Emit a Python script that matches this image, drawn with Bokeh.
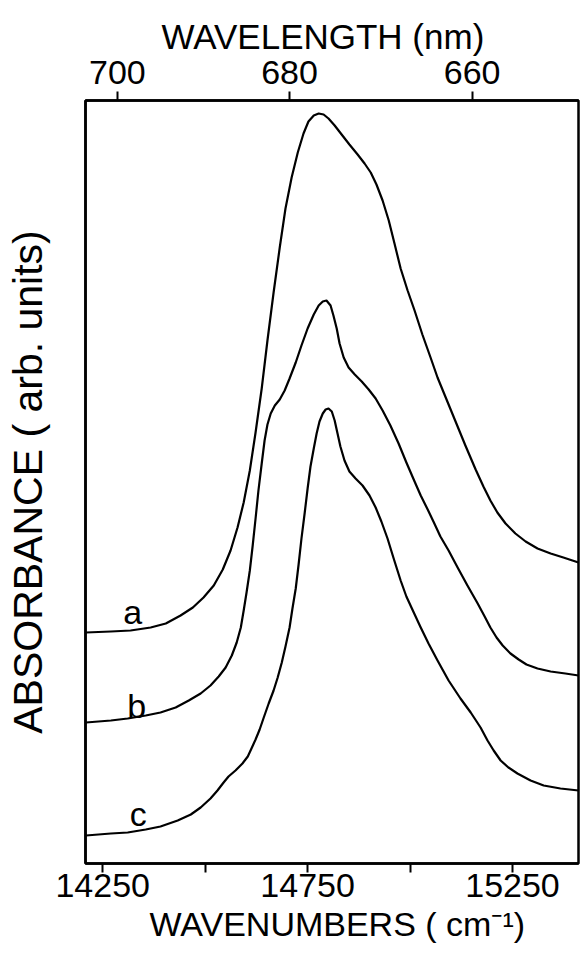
from bokeh.core.properties import value
from bokeh.embed import file_html
from bokeh.models import CustomJSTickFormatter, FixedTicker, LinearAxis, Range1d, Title
from bokeh.plotting import figure
from bokeh.resources import INLINE

# Absorbance spectra (wavenumber in cm^-1, absorbance in arbitrary units, offset per trace)
wavenumber_a = [14209, 14270, 14318, 14367, 14404, 14440, 14470, 14496, 14521, 14543,
                14562, 14579, 14594, 14609, 14623, 14638, 14652, 14667, 14682, 14696,
                14711, 14726, 14740, 14752, 14765, 14777, 14789, 14801, 14816, 14833,
                14852, 14872, 14889, 14904, 14918, 14933, 14948, 14962, 14977, 14994,
                15011, 15030, 15050, 15067, 15087, 15111, 15135, 15160, 15179, 15196,
                15213, 15233, 15257, 15282, 15311, 15343, 15374, 15411]
absorbance_a = [2.31, 2.32, 2.33, 2.36, 2.40, 2.48, 2.56, 2.66, 2.78, 2.94,
                3.13, 3.36, 3.61, 3.93, 4.31, 4.75, 5.23, 5.71, 6.16, 6.55,
                6.86, 7.11, 7.30, 7.42, 7.48, 7.50, 7.49, 7.45, 7.38, 7.29,
                7.19, 7.09, 7.00, 6.91, 6.79, 6.63, 6.43, 6.20, 5.95, 5.73,
                5.53, 5.29, 5.06, 4.86, 4.66, 4.42, 4.18, 3.94, 3.77, 3.63,
                3.51, 3.40, 3.30, 3.22, 3.15, 3.10, 3.06, 3.01]

wavenumber_b = [14209, 14270, 14311, 14355, 14391, 14428, 14460, 14489, 14513, 14533,
                14550, 14565, 14577, 14587, 14594, 14601, 14609, 14616, 14623, 14630,
                14638, 14645, 14652, 14660, 14670, 14682, 14694, 14706, 14721, 14735,
                14750, 14765, 14777, 14787, 14796, 14806, 14813, 14821, 14828, 14838,
                14850, 14865, 14882, 14899, 14916, 14933, 14952, 14972, 14991, 15011,
                15026, 15043, 15057, 15074, 15094, 15116, 15140, 15165, 15182, 15196,
                15211, 15226, 15245, 15265, 15284, 15311, 15343, 15379, 15411]
absorbance_b = [1.41, 1.43, 1.45, 1.48, 1.51, 1.56, 1.63, 1.70, 1.78, 1.87,
                1.96, 2.08, 2.21, 2.36, 2.53, 2.71, 2.93, 3.18, 3.45, 3.73,
                4.00, 4.23, 4.39, 4.50, 4.58, 4.64, 4.73, 4.85, 5.01, 5.18,
                5.35, 5.49, 5.58, 5.62, 5.63, 5.58, 5.48, 5.35, 5.20, 5.06,
                4.96, 4.89, 4.82, 4.74, 4.65, 4.53, 4.38, 4.20, 4.01, 3.82,
                3.68, 3.54, 3.42, 3.27, 3.13, 2.96, 2.78, 2.60, 2.47, 2.36,
                2.26, 2.18, 2.10, 2.04, 1.99, 1.95, 1.92, 1.90, 1.88]

wavenumber_c = [14209, 14270, 14311, 14355, 14391, 14433, 14465, 14489, 14513, 14530,
                14545, 14557, 14574, 14591, 14604, 14613, 14623, 14633, 14643, 14655,
                14667, 14677, 14687, 14696, 14706, 14713, 14721, 14728, 14735, 14743,
                14750, 14757, 14765, 14772, 14779, 14787, 14794, 14801, 14809, 14816,
                14823, 14830, 14840, 14852, 14867, 14884, 14901, 14916, 14930, 14945,
                14960, 14977, 14991, 15009, 15026, 15045, 15067, 15094, 15123, 15148,
                15172, 15189, 15204, 15221, 15240, 15262, 15294, 15326, 15367, 15411]
absorbance_c = [0.28, 0.30, 0.31, 0.34, 0.37, 0.43, 0.49, 0.56, 0.65, 0.73,
                0.81, 0.87, 0.93, 1.00, 1.07, 1.15, 1.24, 1.34, 1.46, 1.60,
                1.73, 1.86, 2.01, 2.17, 2.36, 2.55, 2.75, 2.99, 3.25, 3.51,
                3.75, 3.97, 4.15, 4.30, 4.42, 4.50, 4.54, 4.55, 4.52, 4.43,
                4.30, 4.17, 4.03, 3.92, 3.85, 3.78, 3.68, 3.56, 3.42, 3.25,
                3.05, 2.83, 2.67, 2.51, 2.36, 2.20, 2.03, 1.83, 1.65, 1.51,
                1.36, 1.23, 1.13, 1.03, 0.96, 0.90, 0.83, 0.78, 0.75, 0.73]

trace_names = ["a", "b", "c"]
trace_label_x = [14323, 14333, 14337]
trace_label_y = [2.52, 1.58, 0.50]

wavenumber_ticks = [14250, 14750, 15250]
wavenumber_minor_ticks = [14500, 15000]
wavelength_ticks_nm = [700, 680, 660]

X_RANGE = (14208, 15411)
Y_RANGE = (0, 7.63)

SANS = "Liberation Sans"
TICK_SIZE = "34px"

p = figure(
    width=580, height=954, title=None,
    output_backend="svg", toolbar_location=None,
    x_range=Range1d(*X_RANGE), y_range=Range1d(*Y_RANGE),
    min_border_left=85, min_border_right=2, min_border_top=100, min_border_bottom=91,
    background_fill_color="white", border_fill_color="white",
)
p.grid.visible = False
p.outline_line_color = "black"
p.outline_line_width = 2.5

# bottom axis: wavenumbers
xb = p.xaxis[0]
xb.ticker = FixedTicker(ticks=wavenumber_ticks, minor_ticks=wavenumber_minor_ticks)
xb.axis_line_width = 2.5
xb.major_tick_in = 0
xb.major_tick_out = 9
xb.minor_tick_in = 0
xb.minor_tick_out = 9
xb.major_tick_line_width = 2
xb.minor_tick_line_width = 2
xb.major_label_standoff = 1
xb.major_label_text_font = SANS
xb.major_label_text_font_size = TICK_SIZE
xb.major_label_text_color = "black"

# left axis: bare line carrying the quantity name
yl = p.yaxis[0]
yl.ticker = FixedTicker(ticks=[])
yl.axis_line_width = 2.5
yl.major_tick_out = 0
yl.major_tick_in = 0
yl.minor_tick_out = 0
yl.minor_tick_in = 0
yl.major_label_text_font_size = "0px"
yl.axis_label = "ABSORBANCE ( arb. units)"
yl.axis_label_text_font = SANS
yl.axis_label_text_font_size = "41px"
yl.axis_label_text_font_style = "normal"
yl.axis_label_text_color = "black"
yl.axis_label_standoff = 35

# top axis: wavelength (nm) at the corresponding wavenumber positions
top_axis = LinearAxis(
    ticker=FixedTicker(ticks=[1e7 / w for w in wavelength_ticks_nm], minor_ticks=[]),
    formatter=CustomJSTickFormatter(code="return (1e7 / tick).toFixed(0);"),
    axis_line_width=2.5,
    major_tick_in=0, major_tick_out=9, major_tick_line_width=2,
    minor_tick_in=0, minor_tick_out=0,
    major_label_standoff=8,
    major_label_text_font=SANS,
    major_label_text_font_size=TICK_SIZE,
    major_label_text_color="black",
)
p.add_layout(top_axis, "above")

# axis titles
p.add_layout(Title(text="WAVELENGTH (nm)", align="left", offset=76, standoff=4,
                   text_font=SANS, text_font_size="35px", text_font_style="normal",
                   text_color="black"), "above")
p.add_layout(Title(text="WAVENUMBERS ( cm\u207b\u00b9)", align="left", offset=64, standoff=7,
                   text_font=SANS, text_font_size="34px", text_font_style="normal",
                   text_color="black"), "below")

# spectra
for xs, ys in [(wavenumber_a, absorbance_a), (wavenumber_b, absorbance_b), (wavenumber_c, absorbance_c)]:
    p.line(xs, ys, line_color="black", line_width=2.2, line_join="round")

p.text(x=trace_label_x, y=trace_label_y, text=trace_names,
       text_font=value(SANS), text_font_size="34px", text_color="black",
       text_align="center", text_baseline="alphabetic")

open("out.html", "w").write(file_html(p, INLINE))
